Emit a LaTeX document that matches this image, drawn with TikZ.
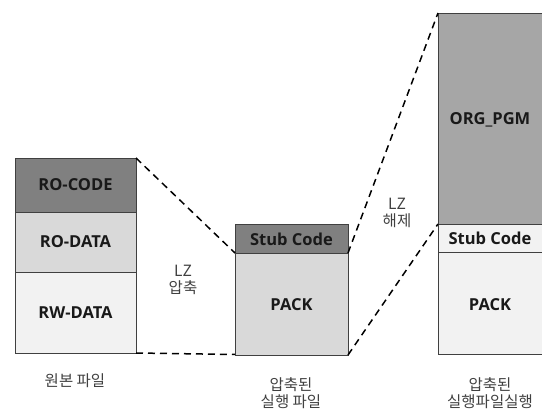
\documentclass[tikz,border=0pt]{standalone}
\usepackage{fontspec}
\setmainfont{Noto Sans CJK KR}
\newfontfamily\lblfont{Open Sans}[BoldFont={Open Sans Bold}]
\begin{document}
\begin{tikzpicture}[x=1pt,y=-1pt,
  seg/.style={draw=black!75,line width=0.8pt},
  lbl/.style={font=\lblfont\bfseries\fontsize{16.5}{18}\selectfont,text=black!90},
  kor/.style={font=\fontsize{15.5}{17}\selectfont,text=black!75,align=center},
  link/.style={dashed,line width=1.5pt,dash pattern=on 7pt off 5pt}]
\useasboundingbox (0,0) rectangle (542,411);
\clip (0,0) rectangle (542,411);
\definecolor{dk}{HTML}{808080}
\definecolor{md}{HTML}{A6A6A6}
\definecolor{lt}{HTML}{D9D9D9}
\definecolor{vl}{HTML}{F2F2F2}
% left
\path[seg,fill=dk] (15,158) rectangle (136,212);
\path[seg,fill=lt] (15,212) rectangle (136,272);
\path[seg,fill=vl] (15,272) rectangle (136,353);
\node[lbl] (rocode) at (75.5,185) {RO-CODE};
\node[lbl] (rodata) at (75.5,242) {RO-DATA};
\node[lbl] (rwdata) at (75.5,312.5) {RW-DATA};
\coordinate (ltr) at (136,158);
\coordinate (lbr) at (136,353);
% middle
\path[seg,fill=dk] (235,224) rectangle (348,253);
\path[seg,fill=lt] (235,253) rectangle (348,355);
\node[lbl] (stub1) at (291.5,239) {Stub Code};
\node[lbl] (pack1) at (291.5,305) {PACK};
\coordinate (mtl) at (235,253);
\coordinate (mbl) at (235,354.5);
\coordinate (mtr) at (348,253);
\coordinate (mbr) at (348,355);
% right
\path[seg,fill=md] (438,13) rectangle (560,224);
\path[seg,fill=vl] (438,224) rectangle (560,252);
\path[seg,fill=vl] (438,252) rectangle (560,354);
\node[lbl] (org) at (490,120) {ORG\_PGM};
\node[lbl] (stub2) at (490,238.5) {Stub Code};
\node[lbl] (pack2) at (490,305) {PACK};
\coordinate (rtl) at (438,13);
\coordinate (rml) at (438,224);
% links
\draw[link] (ltr) -- (mtl);
\draw[link] (lbr) -- (mbl);
\draw[link] (mtr) -- (rtl);
\draw[link] (mbr) -- (rml);
% labels
\node[kor] (lz1) at (183,280) {LZ\\[0pt]압축};
\node[kor] (lz2) at (397,213) {LZ\\[0pt]해제};
\node[kor] (c1) at (75,381) {원본 파일};
\node[kor] (c2) at (291,393) {압축된\\[0pt]실행 파일};
\node[kor] (c3) at (490,393) {압축된\\[0pt]실행파일실행};
\end{tikzpicture}
\end{document}
